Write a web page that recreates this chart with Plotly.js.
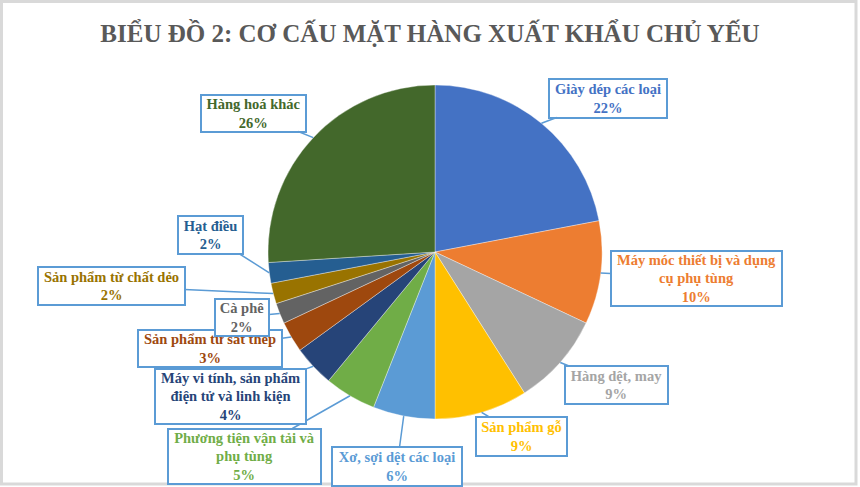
<!DOCTYPE html>
<html>
<head>
<meta charset="utf-8">
<script src="https://cdn.plot.ly/plotly-3.0.1.min.js"></script>
<style>
  html, body { margin: 0; padding: 0; background: #fff; }
  #chart { width: 860px; height: 487px; }
</style>
</head>
<body>
<div id="chart"></div>
<script>
// categories and shares (%)
var categories = [
    'Giày dép các loại',
    'Máy móc thiết bị và dụng<br>cụ phụ tùng',
    'Hàng dệt, may',
    'Sản phẩm gỗ',
    'Xơ, sợi dệt các loại',
    'Phương tiện vận tải và<br>phụ tùng',
    'Máy vi tính, sản phẩm<br>điện tử và linh kiện',
    'Sản phẩm từ sắt thép',
    'Cà phê',
    'Sản phẩm từ chất dẻo',
    'Hạt điều',
    'Hàng hoá khác'
];
var shares = [22, 10, 9, 9, 6, 5, 4, 3, 2, 2, 2, 26];

var colors = ['#4472C4', '#ED7D31', '#A5A5A5', '#FFC000', '#5B9BD5', '#70AD47',
              '#264478', '#9E480E', '#636363', '#997300', '#255E91', '#43682B'];

// callout boxes: centre and size in pixels
var boxes = [
    [608, 98, 120, 41],
    [696, 278, 173, 57],
    [616, 385, 105, 40],
    [521, 436, 93, 41],
    [397, 466, 132, 41],
    [244, 456, 155, 57],
    [230, 396, 153, 57],
    [210, 348, 146, 39],
    [242, 317, 56, 39],
    [111, 286, 149, 40],
    [210, 235, 67, 40],
    [253, 113, 107, 39]
];

var W = 860, H = 487;
var cx = 435, cy = 252, r = 167;

var traces = [{
    type: 'pie',
    labels: categories,
    values: shares,
    sort: false,
    direction: 'clockwise',
    rotation: 0,
    textinfo: 'none',
    hoverinfo: 'label+percent',
    showlegend: false,
    marker: {
        colors: colors,
        line: {color: 'rgba(255,255,255,0.6)', width: 0.6}
    },
    domain: {
        x: [(cx - r) / W, (cx + r) / W],
        y: [1 - (cy + r) / H, 1 - (cy - r) / H]
    }
}];

// leader tips at the slice mid-angles
var total = shares.reduce(function(a, b) { return a + b; }, 0);
var annotations = [];
var cum = 0;
for (var i = 0; i < shares.length; i++) {
    var mid = (cum + shares[i] / 2) / total * 2 * Math.PI;
    cum += shares[i];
    var px = cx + r * Math.sin(mid);
    var py = cy - r * Math.cos(mid);
    var b = boxes[i];
    annotations.push({
        xref: 'paper', yref: 'paper',
        x: px / W, y: 1 - py / H,
        ax: b[0] - px, ay: b[1] - py,
        text: categories[i] + '<br>' + Math.round(shares[i] / total * 100) + '%',
        showarrow: true,
        arrowhead: 0,
        arrowwidth: 1.5,
        arrowcolor: '#5B9BD5',
        standoff: 0,
        width: b[2] - 4,
        height: b[3] - 4,
        borderpad: 0,
        bgcolor: '#FFFFFF',
        bordercolor: '#5B9BD5',
        borderwidth: 2,
        align: 'center',
        valign: 'middle',
        font: {family: '"Liberation Serif", "Times New Roman", serif', size: 14.5, color: colors[i], weight: 'bold'}
    });
}

var layout = {
    width: W,
    height: H,
    margin: {l: 0, r: 0, t: 0, b: 0},
    paper_bgcolor: '#FFFFFF',
    title: {
        text: '<b>BIỂU ĐỒ 2: CƠ CẤU MẶT HÀNG XUẤT KHẨU CHỦ YẾU</b>',
        font: {family: '"Liberation Serif", "Times New Roman", serif', size: 25, color: '#595959'},
        x: 0.5, xanchor: 'center',
        y: 1 - 33 / H, yanchor: 'middle', yref: 'container'
    },
    annotations: annotations,
    shapes: [{
        type: 'rect', xref: 'paper', yref: 'paper', layer: 'below',
        x0: 1.5 / W, x1: 1 - 4 / W, y0: 3 / H, y1: 1 - 1.5 / H,
        line: {color: '#D9D9D9', width: 3}
    }]
};

Plotly.newPlot('chart', traces, layout, {displayModeBar: false, staticPlot: true});
</script>
</body>
</html>
